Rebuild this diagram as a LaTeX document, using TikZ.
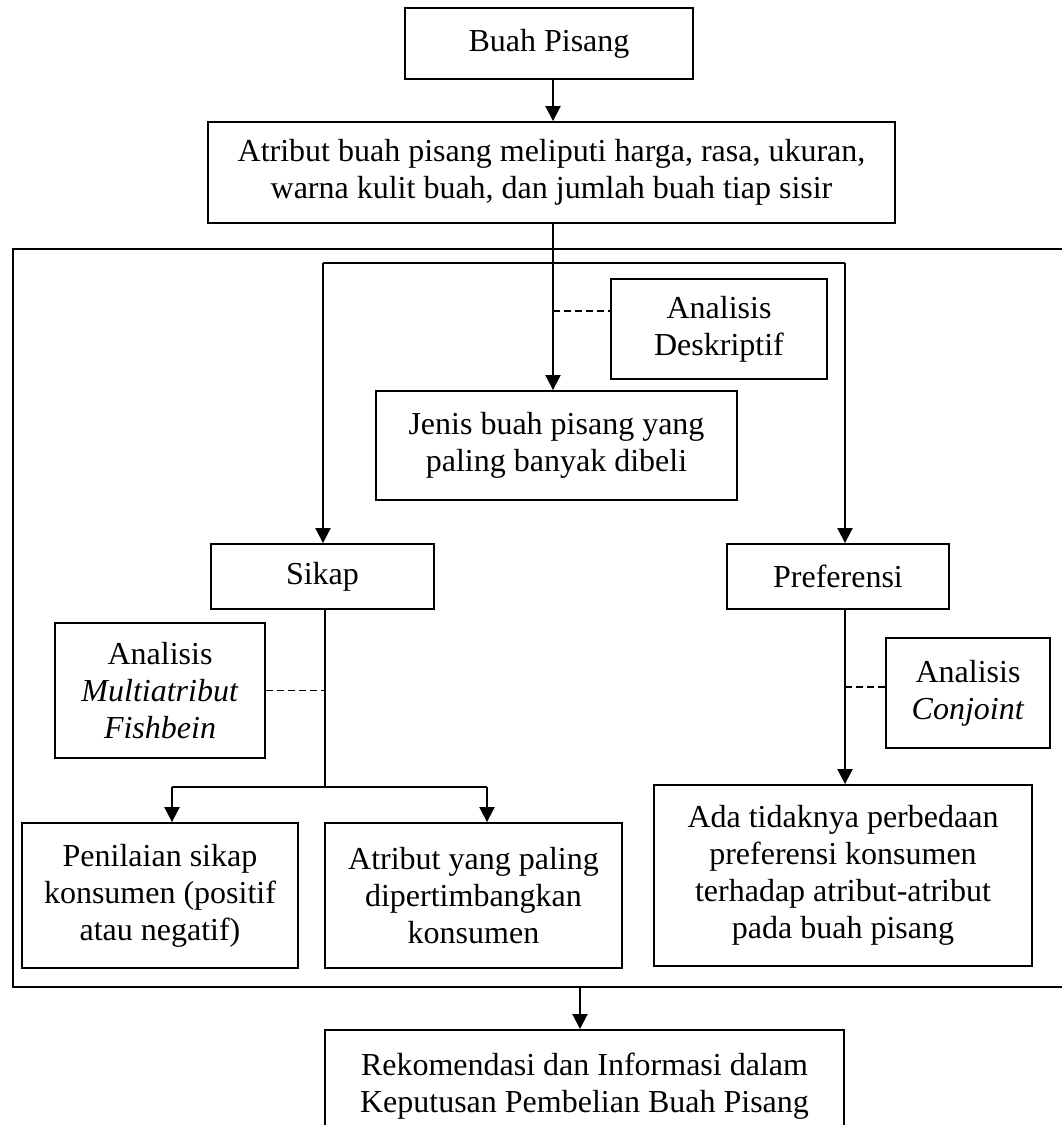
\documentclass[tikz,border=0pt]{standalone}
\usepackage{fontspec}
\setmainfont{Liberation Serif}
\usetikzlibrary{arrows.meta,calc}
\newcommand\fsz{\fontsize{32}{37}\selectfont}
\begin{document}
\begin{tikzpicture}[x=1pt,y=-1pt,
  box/.style={draw, line width=1.9pt, align=center, inner sep=0pt, font=\fsz},
  arr/.style={line width=2pt, -{Triangle[width=15pt,length=15pt]}},
  ln/.style={line width=2pt},
  dsh/.style={line width=1.8pt, dash pattern=on 7pt off 4pt}]
\path[use as bounding box, fill=white] (0,0) rectangle (1061,1125);
% frame
\node[draw, line width=2pt, minimum width=1070pt, minimum height=738pt, anchor=north west, inner sep=0pt] (frame) at (12,248) {};
% nodes
\node[box, minimum width=288pt, minimum height=71pt] (buah) at (549,43.5) {Buah Pisang};
\node[box, minimum width=687pt, minimum height=101pt] (atr) at (551.5,172.5) {Atribut buah pisang meliputi harga, rasa, ukuran,\\ warna kulit buah, dan jumlah buah tiap sisir};
\node[box, minimum width=216pt, minimum height=100pt] (desk) at (719,329) {Analisis\\Deskriptif};
\node[box, minimum width=361pt, minimum height=109pt] (jenis) at (556.5,445.5) {Jenis buah pisang yang\\paling banyak dibeli};
\node[box, minimum width=223pt, minimum height=65pt] (sikap) at (322.5,576.5) {Sikap};
\node[box, minimum width=222pt, minimum height=65pt] (pref) at (838,576.5) {Preferensi};
\node[box, minimum width=210pt, minimum height=135pt] (fish) at (160,690.5) {Analisis\\\textit{Multiatribut}\\\textit{Fishbein}};
\node[box, minimum width=164pt, minimum height=110pt] (conj) at (968,693) {Analisis\\\textit{Conjoint}};
\node[box, minimum width=276pt, minimum height=145pt] (pen) at (160,895.5) {Penilaian sikap\\konsumen (positif\\atau negatif)};
\node[box, minimum width=297pt, minimum height=145pt] (atp) at (473.5,895.5) {Atribut yang paling\\dipertimbangkan\\konsumen};
\node[box, minimum width=378pt, minimum height=181pt] (ada) at (843,875.5) {Ada tidaknya perbedaan\\preferensi konsumen\\terhadap atribut-atribut\\pada buah pisang};
\node[box, minimum width=519pt, minimum height=112pt, anchor=north] (rek) at (584.5,1029) {Rekomendasi dan Informasi dalam\\Keputusan Pembelian Buah Pisang};
% coordinates
\coordinate (cl) at (553,223);
\coordinate (brL) at (323,263);
\coordinate (brR) at (845,263);
\coordinate (d1) at (553,311);
\coordinate (sj) at (325,787);
\coordinate (bl) at (172,787);
\coordinate (br) at (487,787);
\coordinate (d3) at (845,687);
\coordinate (fb) at (580,986);
% connectors
\draw[arr] (buah.south -| cl) -- (atr.north -| cl);
\draw[arr] (cl) -- (jenis.north -| cl);
\draw[ln] (brL) -- (brR);
\draw[arr] (brL) -- (brL |- sikap.north);
\draw[arr] (brR) -- (brR |- pref.north);
\draw[dsh] (d1) -- (d1 -| desk.west);
\draw[ln] (sikap.south -| sj) -- (sj);
\draw[ln] (bl) -- (br);
\draw[arr] (bl) -- (bl |- pen.north);
\draw[arr] (br) -- (br |- atp.north);
\draw[dsh] (fish.east) -- (fish.east -| sj);
\draw[arr] (pref.south -| d3) -- (ada.north -| d3);
\draw[dsh] (d3) -- (d3 -| conj.west);
\draw[arr] (fb) -- (rek.north -| fb);
\end{tikzpicture}
\end{document}
